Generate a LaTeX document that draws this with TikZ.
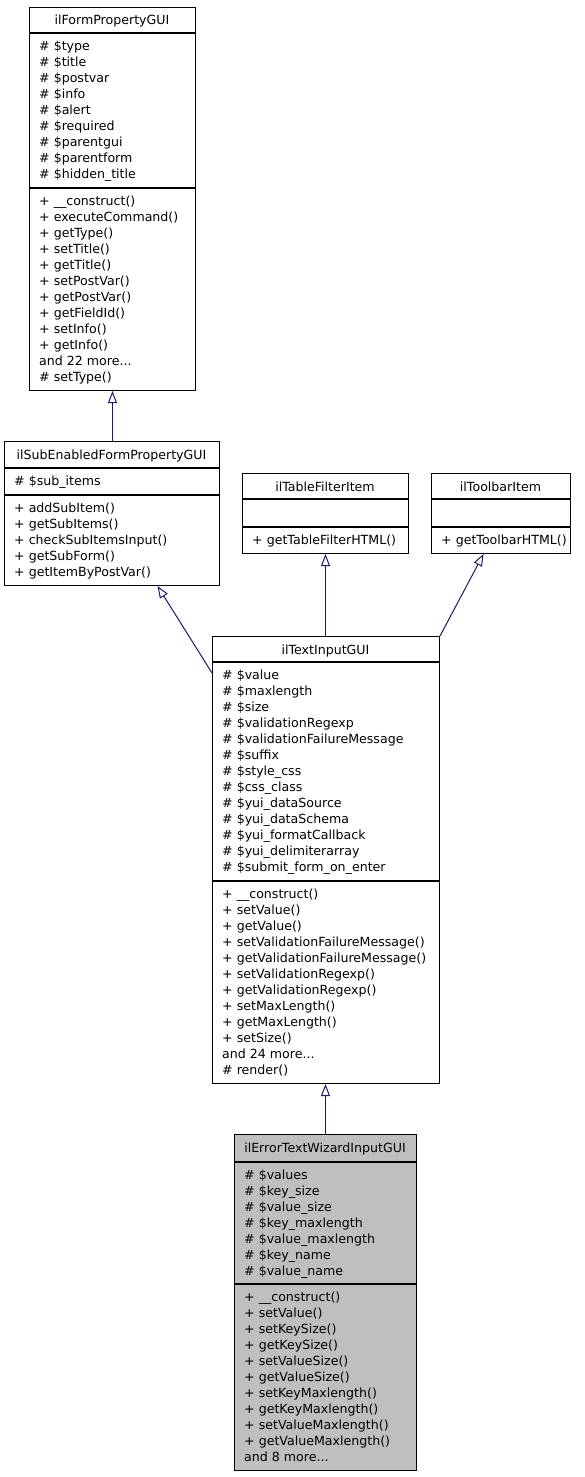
\documentclass[tikz,border=0pt]{standalone}
\usepackage{fontspec}
\setmainfont{DejaVu Sans}
\usetikzlibrary{arrows.meta}
\definecolor{edgeblue}{HTML}{191970}
\newcommand{\andmore}[1]{and #1 more...}

\begin{document}
\begin{tikzpicture}[x=1pt, y=-1pt,
    box/.style={draw, line width=1pt, anchor=north west, inner sep=0pt},
    part/.style={line width=1.6pt},
    title/.style={anchor=base, inner sep=0pt, font=\fontsize{12.6}{16}\selectfont},
    member/.style={anchor=base west, inner sep=0pt, font=\fontsize{12.6}{16}\selectfont},
    inherit/.style={draw=edgeblue, line width=1pt, -{Triangle[open, length=12pt, width=9pt]}}
  ]
  \useasboundingbox (0,0) rectangle (584,1477);

  % ilFormPropertyGUI
  \node[box, minimum width=166pt, minimum height=383pt] (form) at (29,7) {};
  \node[title] at (112,25) {ilFormPropertyGUI};
  \draw[part] (29,33) -- ++(166,0) (29,188) -- ++(166,0);
  \foreach \m [count=\i] in {\# \$type, \# \$title, \# \$postvar, \# \$info, \# \$alert,
      \# \$required, \# \$parentgui, \# \$parentform, \# \$hidden\_title}
    \node[member] at (39,{33+17.5+16*(\i-1)}) {\m};
  \foreach \m [count=\i] in {+ \_\_construct(), + executeCommand(), + getType(), + setTitle(),
      + getTitle(), + setPostVar(), + getPostVar(), + getFieldId(), + setInfo(), + getInfo(),
      \andmore{22}, \# setType()}
    \node[member] at (39,{188+17.5+16*(\i-1)}) {\m};

  % ilSubEnabledFormPropertyGUI
  \node[box, minimum width=215pt, minimum height=144pt] (sub) at (4,441) {};
  \node[title] at (111.5,459) {ilSubEnabledFormPropertyGUI};
  \draw[part] (4,468) -- ++(215,0) (4,495) -- ++(215,0);
  \node[member] at (14,485.5) {\# \$sub\_items};
  \foreach \m [count=\i] in {+ addSubItem(), + getSubItems(), + checkSubItemsInput(),
      + getSubForm(), + getItemByPostVar()}
    \node[member] at (14,{495+17.5+16*(\i-1)}) {\m};

  % ilTableFilterItem
  \node[box, minimum width=166pt, minimum height=80pt] (tfilter) at (242,473) {};
  \node[title] at (325,491) {ilTableFilterItem};
  \draw[part] (242,499) -- ++(166,0) (242,527) -- ++(166,0);
  \node[member] at (252,544.5) {+ getTableFilterHTML()};

  % ilToolbarItem
  \node[box, minimum width=139pt, minimum height=80pt] (toolbar) at (431,473) {};
  \node[title] at (500.5,491) {ilToolbarItem};
  \draw[part] (431,499) -- ++(139,0) (431,527) -- ++(139,0);
  \node[member] at (441,544.5) {+ getToolbarHTML()};

  % ilTextInputGUI
  \node[box, minimum width=227pt, minimum height=447pt] (tin) at (212,636) {};
  \node[title] at (325.5,654) {ilTextInputGUI};
  \draw[part] (212,662) -- ++(227,0) (212,881) -- ++(227,0);
  \foreach \m [count=\i] in {\# \$value, \# \$maxlength, \# \$size, \# \$validationRegexp,
      \# \$validationFailureMessage, \# \$suffix, \# \$style\_css, \# \$css\_class,
      \# \$yui\_dataSource, \# \$yui\_dataSchema, \# \$yui\_formatCallback,
      \# \$yui\_delimiterarray, \# \$submit\_form\_on\_enter}
    \node[member] at (222,{662+17.5+16*(\i-1)}) {\m};
  \foreach \m [count=\i] in {+ \_\_construct(), + setValue(), + getValue(),
      + setValidationFailureMessage(), + getValidationFailureMessage(),
      + setValidationRegexp(), + getValidationRegexp(), + setMaxLength(),
      + getMaxLength(), + setSize(), \andmore{24}, \# render()}
    \node[member] at (222,{881+17.5+16*(\i-1)}) {\m};

  % ilErrorTextWizardInputGUI
  \node[box, fill=black!25, minimum width=182pt, minimum height=336pt] (error) at (234,1134) {};
  \node[title] at (325,1152) {ilErrorTextWizardInputGUI};
  \draw[part] (234,1162) -- ++(182,0) (234,1284) -- ++(182,0);
  \foreach \m [count=\i] in {\# \$values, \# \$key\_size, \# \$value\_size, \# \$key\_maxlength,
      \# \$value\_maxlength, \# \$key\_name, \# \$value\_name}
    \node[member] at (244,{1162+17.5+16*(\i-1)}) {\m};
  \foreach \m [count=\i] in {+ \_\_construct(), + setValue(), + setKeySize(), + getKeySize(),
      + setValueSize(), + getValueSize(), + setKeyMaxlength(), + getKeyMaxlength(),
      + setValueMaxlength(), + getValueMaxlength(), \andmore{8}}
    \node[member] at (244,{1284+17.5+16*(\i-1)}) {\m};

  % inheritance
  \draw[inherit] (form.south |- sub.north) -- (form.south);
  \draw[inherit] ([yshift=-37pt]tin.north west) -- ([xshift=45.5pt]sub.south);
  \draw[inherit] (tfilter.south |- tin.north) -- (tfilter.south);
  \draw[inherit] (tin.north east) -- ([xshift=-17.5pt]toolbar.south);
  \draw[inherit] (error.north) -- (error.north |- tin.south);
\end{tikzpicture}
\end{document}
